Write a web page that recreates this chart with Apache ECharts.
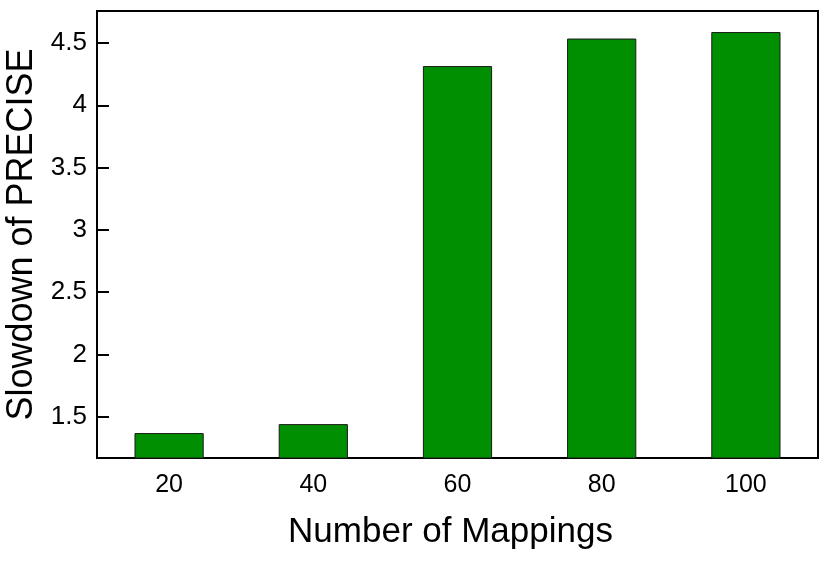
<!DOCTYPE html>
<html>
<head>
<meta charset="utf-8">
<script src="https://cdn.jsdelivr.net/npm/echarts@6/dist/echarts.min.js"></script>
<style>
  html, body { margin: 0; padding: 0; background: #fff; }
  #chart { width: 830px; height: 573px; }
</style>
</head>
<body>
<div id="chart"></div>
<script>
const mappings = ['20', '40', '60', '80', '100']
const slowdown = [1.369, 1.441, 4.315, 4.536, 4.588]
const yTicks = [1.5, 2, 2.5, 3, 3.5, 4, 4.5]

const font = '"Liberation Sans", Arial, Helvetica, sans-serif'

const chart = echarts.init(document.getElementById('chart'))

chart.setOption({
  backgroundColor: '#fff',
  animation: false,
  grid: {
    left: 97,
    right: 12,
    top: 11,
    bottom: 115,
    containLabel: false,
    outerBoundsMode: 'none',
    show: true,
    borderColor: '#000',
    borderWidth: 2,
  },
  xAxis: {
    type: 'category',
    data: mappings,
    name: 'Number of Mappings',
    nameLocation: 'middle',
    nameGap: 57,
    // title sits a few px left of the plot centre in the original
    nameTextStyle: { fontFamily: font, fontSize: 35, color: '#000', padding: [0, 14, 0, 0] },
    axisLine: { lineStyle: { color: '#000', width: 2 } },
    axisTick: { show: false },
    axisLabel: { fontFamily: font, fontSize: 25, color: '#000', margin: 15 },
  },
  yAxis: {
    type: 'value',
    min: 1.169,
    max: 4.757,
    name: 'Slowdown of PRECISE',
    nameLocation: 'middle',
    nameGap: 57,
    nameTextStyle: { fontFamily: font, fontSize: 36, color: '#000' },
    axisLine: { show: true, lineStyle: { color: '#000', width: 2 } },
    axisTick: {
      show: true,
      inside: true,
      length: 12,
      lineStyle: { color: '#000', width: 2 },
      customValues: yTicks,
    },
    axisLabel: {
      fontFamily: font,
      fontSize: 26,
      color: '#000',
      margin: 10,
      customValues: yTicks,
    },
    splitLine: { show: false },
  },
  series: [
    {
      type: 'bar',
      data: slowdown,
      barWidth: '48%',
      itemStyle: {
        color: '#008f00',
        borderColor: '#1a1a1a',
        borderWidth: 1,
      },
    },
  ],
})
</script>
</body>
</html>
